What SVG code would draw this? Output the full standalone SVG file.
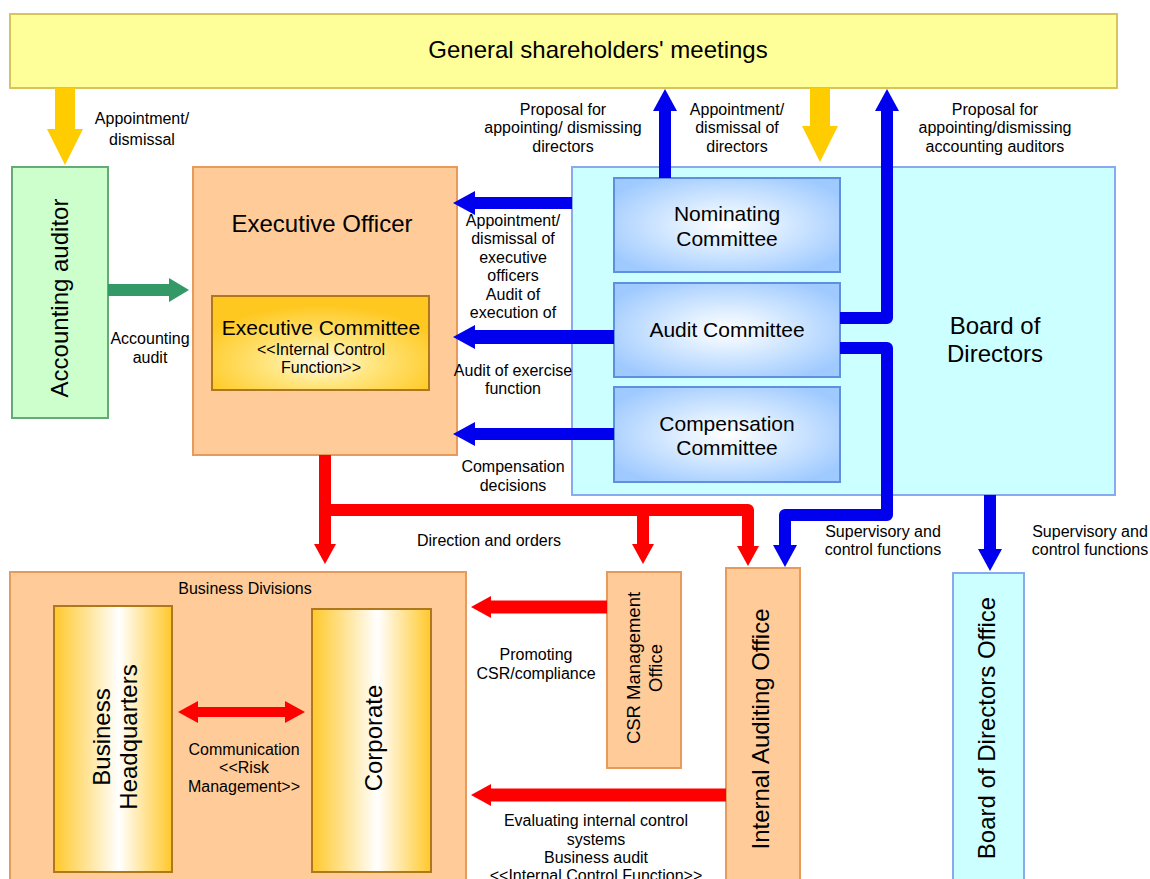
<svg xmlns="http://www.w3.org/2000/svg" width="1150" height="879" viewBox="0 0 1150 879">
<style>
text{font-family:"Liberation Sans",Arial,sans-serif;fill:#000;text-anchor:middle}
.lbl{font-size:16px}
.big{font-size:24px}
.cm{font-size:21px}
.orange{fill:#ffcc99;stroke:#e89a5a;stroke-width:2}
.cyan{fill:#ccffff;stroke:#88aaee;stroke-width:2}
.comm{fill:url(#gBlue);stroke:#5f8fdf;stroke-width:2}
.yel{fill:url(#gYelH);stroke:#b0781e;stroke-width:2}
.blue{fill:none;stroke:#0000ee;stroke-width:12}
.red{fill:none;stroke:#ff0000;stroke-width:12}
</style>
<defs>
<radialGradient id="gBlue" cx="0.5" cy="0.5" r="0.6">
<stop offset="0" stop-color="#ffffff"/>
<stop offset="0.35" stop-color="#deeeff"/>
<stop offset="1" stop-color="#9fcaff"/>
</radialGradient>
<radialGradient id="gExec" cx="0.5" cy="0.7" r="0.6">
<stop offset="0" stop-color="#fffbe8"/>
<stop offset="0.4" stop-color="#ffe680"/>
<stop offset="1" stop-color="#ffc820"/>
</radialGradient>
<linearGradient id="gYelH" x1="0" y1="0" x2="1" y2="0">
<stop offset="0" stop-color="#ffc82a"/>
<stop offset="0.55" stop-color="#ffffff"/>
<stop offset="1" stop-color="#ffc82a"/>
</linearGradient>
<marker id="hBlue" viewBox="0 -13 22 26" markerWidth="22" markerHeight="26" refX="1" refY="0" orient="auto" markerUnits="userSpaceOnUse"><path d="M0,-12 L22,0 L0,12 z" fill="#0000ee"/></marker>
<marker id="hRed" viewBox="0 -12 20 24" markerWidth="20" markerHeight="24" refX="1" refY="0" orient="auto-start-reverse" markerUnits="userSpaceOnUse"><path d="M0,-11 L20,0 L0,11 z" fill="#ff0000"/></marker>
<marker id="hYel" viewBox="0 -19 36 38" markerWidth="36" markerHeight="38" refX="1" refY="0" orient="auto" markerUnits="userSpaceOnUse"><path d="M0,-18 L36,0 L0,18 z" fill="#ffcc00"/></marker>
<marker id="hGreen" viewBox="0 -13 20 26" markerWidth="20" markerHeight="26" refX="1" refY="0" orient="auto" markerUnits="userSpaceOnUse"><path d="M0,-12 L20,0 L0,12 z" fill="#339966"/></marker>
</defs>

<g id="shareholders">
<rect x="10" y="14" width="1107" height="74" fill="#ffff99" stroke="#d8c45a" stroke-width="2"/>
<text x="598" y="58" class="big">General shareholders' meetings</text>
</g>

<g id="accounting-auditor">
<rect x="12" y="167" width="96" height="251" fill="#ccffcc" stroke="#66aa77" stroke-width="2"/>
<text transform="translate(68,298) rotate(-90)" class="big">Accounting auditor</text>
</g>

<g id="executive-officer">
<rect x="193" y="167" width="264" height="288" class="orange"/>
<text x="322" y="232" class="big">Executive Officer</text>
</g>

<g id="executive-committee">
<rect x="212" y="296" width="217" height="94" fill="url(#gExec)" stroke="#b0781e" stroke-width="2"/>
<text x="321" y="335" class="cm">Executive Committee</text>
<text x="321" y="355" class="lbl">&lt;&lt;Internal Control</text>
<text x="321" y="373" class="lbl">Function&gt;&gt;</text>
</g>

<g id="board-of-directors">
<rect x="572" y="167" width="543" height="328" class="cyan"/>
<text x="995" y="334" class="big">Board of</text>
<text x="995" y="362" class="big">Directors</text>
</g>

<g id="nominating-committee">
<rect x="614" y="178" width="226" height="94" class="comm"/>
<text x="727" y="221" class="cm">Nominating</text>
<text x="727" y="246" class="cm">Committee</text>
</g>

<g id="audit-committee">
<rect x="614" y="283" width="226" height="94" class="comm"/>
<text x="727" y="337" class="cm">Audit Committee</text>
</g>

<g id="compensation-committee">
<rect x="614" y="387" width="226" height="95" class="comm"/>
<text x="727" y="431" class="cm">Compensation</text>
<text x="727" y="455" class="cm">Committee</text>
</g>

<g id="business-divisions">
<rect x="10" y="572" width="456" height="320" class="orange"/>
<text x="245" y="594" class="lbl">Business Divisions</text>
</g>

<g id="business-headquarters">
<rect x="54" y="606" width="118" height="266" class="yel"/>
<text transform="translate(113,737) rotate(-90)" class="big"><tspan x="0" y="-3">Business</tspan><tspan x="0" y="24">Headquarters</tspan></text>
</g>

<g id="corporate">
<rect x="312" y="609" width="119" height="263" class="yel"/>
<text transform="translate(382,738) rotate(-90)" class="big">Corporate</text>
</g>

<g id="csr-office">
<rect x="607" y="572" width="74" height="196" class="orange"/>
<text transform="translate(644,668) rotate(-90)" style="font-size:18.5px"><tspan x="0" y="-4">CSR Management</tspan><tspan x="0" y="18">Office</tspan></text>
</g>

<g id="internal-auditing-office">
<rect x="726" y="568" width="74" height="320" class="orange"/>
<text transform="translate(769,729) rotate(-90)" class="big">Internal Auditing Office</text>
</g>

<g id="board-office">
<rect x="953" y="573" width="71" height="320" class="cyan"/>
<text transform="translate(995,728) rotate(-90)" class="big">Board of Directors Office</text>
</g>

<g id="connectors">
<path d="M65,88 V130" fill="none" stroke="#ffcc00" stroke-width="20" marker-end="url(#hYel)"/>
<path d="M820,88 V127" fill="none" stroke="#ffcc00" stroke-width="20" marker-end="url(#hYel)"/>
<path d="M665,178 V110" class="blue" marker-end="url(#hBlue)"/>
<path d="M840,318 H887 V110" class="blue" stroke-linejoin="round" marker-end="url(#hBlue)"/>
<path d="M840,348 H887 V515 H785 V546" class="blue" stroke-linejoin="round" marker-end="url(#hBlue)"/>
<path d="M990,495 V550" class="blue" marker-end="url(#hBlue)"/>
<path d="M572,203 H474" class="blue" marker-end="url(#hBlue)"/>
<path d="M614,337 H474" class="blue" style="stroke-width:14" marker-end="url(#hBlue)"/>
<path d="M614,434 H474" class="blue" marker-end="url(#hBlue)"/>
<path d="M108,290 H170" fill="none" stroke="#339966" stroke-width="12" marker-end="url(#hGreen)"/>
<path d="M325,455 V545" class="red" marker-end="url(#hRed)"/>
<path d="M325,510 H748 V547" class="red" stroke-linejoin="round" marker-end="url(#hRed)"/>
<path d="M643,510 V545" class="red" marker-end="url(#hRed)"/>
<path d="M607,607 H490" class="red" style="stroke-width:13" marker-end="url(#hRed)"/>
<path d="M726,795 H490" class="red" style="stroke-width:13" marker-end="url(#hRed)"/>
<path d="M197,712 H286" class="red" style="stroke-width:10" marker-start="url(#hRed)" marker-end="url(#hRed)"/>
</g>

<g id="labels">
<text x="142" y="124" class="lbl">Appointment/</text>
<text x="142" y="145" class="lbl">dismissal</text>
<text x="563" y="115" class="lbl">Proposal for</text>
<text x="563" y="133" class="lbl">appointing/ dismissing</text>
<text x="563" y="152" class="lbl">directors</text>
<text x="737" y="115" class="lbl">Appointment/</text>
<text x="737" y="133" class="lbl">dismissal of</text>
<text x="737" y="152" class="lbl">directors</text>
<text x="995" y="115" class="lbl">Proposal for</text>
<text x="995" y="133" class="lbl">appointing/dismissing</text>
<text x="995" y="152" class="lbl">accounting auditors</text>
<text x="513" y="226" class="lbl">Appointment/</text>
<text x="513" y="244" class="lbl">dismissal of</text>
<text x="513" y="263" class="lbl">executive</text>
<text x="513" y="281" class="lbl">officers</text>
<text x="513" y="300" class="lbl">Audit of</text>
<text x="513" y="318" class="lbl">execution of</text>
<text x="513" y="376" class="lbl">Audit of exercise</text>
<text x="513" y="394" class="lbl">function</text>
<text x="513" y="472" class="lbl">Compensation</text>
<text x="513" y="491" class="lbl">decisions</text>
<text x="150" y="344" class="lbl">Accounting</text>
<text x="150" y="363" class="lbl">audit</text>
<text x="489" y="546" class="lbl">Direction and orders</text>
<text x="883" y="537" class="lbl">Supervisory and</text>
<text x="883" y="555" class="lbl">control functions</text>
<text x="1090" y="537" class="lbl">Supervisory and</text>
<text x="1090" y="555" class="lbl">control functions</text>
<text x="536" y="660" class="lbl">Promoting</text>
<text x="536" y="679" class="lbl">CSR/compliance</text>
<text x="244" y="755" class="lbl">Communication</text>
<text x="244" y="773" class="lbl">&lt;&lt;Risk</text>
<text x="244" y="792" class="lbl">Management&gt;&gt;</text>
<text x="596" y="826" class="lbl">Evaluating internal control</text>
<text x="596" y="845" class="lbl">systems</text>
<text x="596" y="863" class="lbl">Business audit</text>
<text x="596" y="881" class="lbl">&lt;&lt;Internal Control Function&gt;&gt;</text>
</g>
</svg>
